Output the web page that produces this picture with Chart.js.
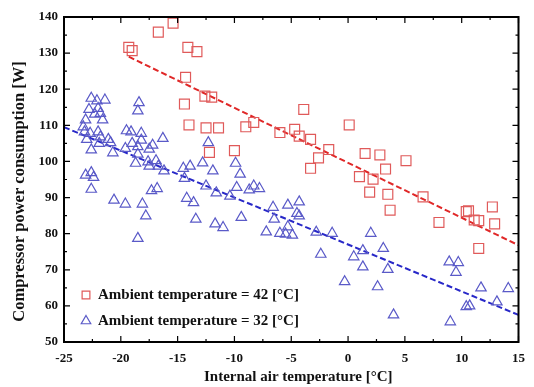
<!DOCTYPE html>
<html>
<head>
<meta charset="utf-8">
<script src="https://cdn.jsdelivr.net/npm/chart.js@4.4.1/dist/chart.umd.min.js"></script>
<style>
html, body { margin: 0; padding: 0; background: #fff; }
</style>
</head>
<body>
<canvas id="chart" width="534" height="387"></canvas>
<script>
// Ambient 42 °C (red squares)
const hotX = [-19.3, -19.0, -16.7, -15.4, -14.1, -13.3, -14.3, -12.6, -12.0, -14.4, -14.0, -12.5, -11.4, -9.0, -8.3,
  -6.0, -4.7, -12.2, -10.0, -3.9, -4.3, -3.3, -1.7, -2.6, -3.3, 0.1, 1.5, 2.8, 3.3, 5.1, 1.0, 2.2, 1.9, 3.5, 3.7,
  6.6, 8.0, 10.4, 10.6, 11.1, 11.5, 12.7, 12.9, 11.5];
const hotY = [131.6, 130.7, 135.8, 138.3, 131.6, 130.4, 123.3, 118.1, 117.8, 115.9, 110.1, 109.3, 109.3, 109.6, 110.8,
  108.0, 108.9, 102.5, 103.0, 114.4, 107.0, 106.1, 103.3, 101.0, 98.1, 110.1, 102.2, 101.8, 97.9, 100.2, 95.8, 95.1, 91.5, 90.9, 86.5,
  90.2, 83.1, 86.1, 86.3, 83.8, 83.6, 87.4, 82.7, 75.9];

// Ambient 32 °C (blue triangles)
const coolX = [-22.6, -22.1, -21.4, -22.8, -22.0, -22.3, -21.8, -21.6, -23.1, -23.3, -23.2, -22.7, -23.0, -22.0, -21.8,
  -21.9, -21.1, -20.9, -22.6, -20.7, -18.4, -18.5, -19.5, -19.1, -18.2, -19.6, -19.0, -18.5, -18.2, -18.5,
  -18.7, -17.5, -17.2, -17.6, -16.9, -17.5, -16.7, -16.3, -16.2, -23.1, -22.6, -22.4, -22.6, -20.6, -19.6,
  -18.1, -17.8, -18.5, -17.3, -16.8, -14.5, -13.9, -14.4, -12.8, -12.3, -11.9, -12.5, -11.6, -14.2, -13.6,
  -13.4, -11.7, -11.0, -9.9, -9.5, -9.8, -10.4, -9.4, -8.7, -8.3, -7.8, -7.2, -6.6, -6.5, -5.3,
  -6.0, -5.5, -5.3, -4.9, -4.3, -4.5, -4.3, -2.8, -1.4, 2.0, -2.4, 0.5, 1.3, 3.1, 1.3,
  3.5, -0.3, 2.6, 4.0, 8.9, 9.7, 9.5, 11.7, 14.1, 10.4, 10.7, 13.1, 9.0];
const coolY = [117.5, 116.8, 117.0, 114.4, 114.7, 113.1, 113.3, 111.5, 111.5, 109.6, 108.2, 107.8, 106.1, 108.2, 106.8,
  105.0, 106.1, 105.2, 103.2, 102.4, 116.3, 114.0, 108.5, 108.2, 107.8, 103.6, 105.0, 104.1, 105.9, 102.0,
  99.5, 103.4, 104.5, 99.9, 100.2, 98.7, 98.7, 106.4, 97.4, 96.2, 96.9, 95.6, 92.3, 89.3, 88.2,
  88.2, 84.9, 78.7, 91.9, 92.5, 98.1, 98.7, 95.3, 99.6, 105.2, 97.4, 93.2, 91.3, 89.8, 88.6,
  84.0, 82.7, 81.7, 99.5, 96.5, 92.8, 90.4, 84.5, 92.1, 93.2, 92.5, 80.5, 87.3, 84.0, 87.9,
  80.1, 79.9, 81.9, 79.6, 88.8, 85.6, 84.9, 80.4, 80.1, 80.1, 74.3, 73.6, 75.3, 75.9, 70.8,
  70.1, 66.7, 65.3, 57.5, 72.2, 72.0, 69.3, 65.0, 64.8, 59.8, 60.0, 61.1, 55.6];

// fitted lines (end points)
const hotFitX = [-19.3, 15];
const hotFitY = [129.0, 76.8];
const coolFitX = [-25, 15];
const coolFitY = [109.5, 57.5];

const xTicks = [-25, -20, -15, -10, -5, 0, 5, 10, 15];
const yTicks = [50, 60, 70, 80, 90, 100, 110, 120, 130, 140];

const hotLabel = 'Ambient temperature = 42 [°C]';
const coolLabel = 'Ambient temperature = 32 [°C]';
const xTitle = 'Internal air temperature [°C]';
const yTitle = 'Compressor power consumption [W]';

const toPoints = (xs, ys) => xs.map((x, i) => ({ x: x, y: ys[i] }));

const serif = '"Liberation Serif", "Times New Roman", serif';

// inward tick marks on all four sides + frame
const frameTicks = {
  id: 'frameTicks',
  afterDatasetsDraw(chart) {
    const { ctx, chartArea: a, scales: { x, y } } = chart;
    ctx.save();
    ctx.strokeStyle = '#000';
    ctx.lineWidth = 1.2;
    ctx.beginPath();
    xTicks.forEach((v, i) => {
      const px = x.getPixelForValue(v);
      ctx.moveTo(px, a.bottom); ctx.lineTo(px, a.bottom - 6);
      ctx.moveTo(px, a.top); ctx.lineTo(px, a.top + 6);
      if (i < xTicks.length - 1) {
        const mx = x.getPixelForValue((v + xTicks[i + 1]) / 2);
        ctx.moveTo(mx, a.bottom); ctx.lineTo(mx, a.bottom - 3);
        ctx.moveTo(mx, a.top); ctx.lineTo(mx, a.top + 3);
      }
    });
    yTicks.forEach((v, i) => {
      const py = y.getPixelForValue(v);
      ctx.moveTo(a.left, py); ctx.lineTo(a.left + 6, py);
      ctx.moveTo(a.right, py); ctx.lineTo(a.right - 6, py);
      if (i < yTicks.length - 1) {
        const my = y.getPixelForValue((v + yTicks[i + 1]) / 2);
        ctx.moveTo(a.left, my); ctx.lineTo(a.left + 3, my);
        ctx.moveTo(a.right, my); ctx.lineTo(a.right - 3, my);
      }
    });
    ctx.stroke();
    ctx.lineWidth = 2;
    ctx.strokeRect(a.left, a.top, a.right - a.left, a.bottom - a.top);
    ctx.restore();
  }
};

// axis titles (the original sits them a little off centre)
const axisTitles = {
  id: 'axisTitles',
  afterDraw(chart) {
    const { ctx, chartArea: a } = chart;
    ctx.save();
    ctx.fillStyle = '#111';
    ctx.textAlign = 'center';
    ctx.textBaseline = 'middle';
    ctx.font = 'bold 15px ' + serif;
    ctx.fillText(xTitle, (a.left + a.right) / 2 + 7, 377);
    ctx.translate(20, (a.top + a.bottom) / 2 + 12);
    ctx.rotate(-Math.PI / 2);
    ctx.font = 'bold 16.5px ' + serif;
    ctx.fillText(yTitle, 0, 0);
    ctx.restore();
  }
};

// legend inside the plot, bottom left
const innerLegend = {
  id: 'innerLegend',
  afterDraw(chart) {
    const { ctx, chartArea: a } = chart;
    const rows = [chart.data.datasets[0], chart.data.datasets[1]];
    ctx.save();
    ctx.font = 'bold 15px ' + serif;
    ctx.textBaseline = 'middle';
    rows.forEach((ds, i) => {
      const cy = a.bottom - 47 + i * 26;
      const cx = a.left + 22;
      ctx.strokeStyle = ds.borderColor;
      ctx.fillStyle = 'rgba(0,0,0,0)';
      ctx.lineWidth = 1.2;
      Chart.helpers.drawPoint(ctx, { pointStyle: ds.pointStyle, radius: 5.5, rotation: 0, borderWidth: 1.2 }, cx, cy);
      ctx.fillStyle = '#111';
      ctx.fillText(ds.label, a.left + 34, cy);
    });
    ctx.restore();
  }
};

new Chart(document.getElementById('chart'), {
  type: 'scatter',
  data: {
    datasets: [
      {
        label: hotLabel,
        data: toPoints(hotX, hotY),
        pointStyle: 'rect',
        pointRadius: 7,
        borderColor: '#e05a5a',
        backgroundColor: 'rgba(0,0,0,0)',
        borderWidth: 1.2
      },
      {
        label: coolLabel,
        data: toPoints(coolX, coolY),
        pointStyle: 'triangle',
        pointRadius: 6,
        borderColor: '#5a5ac8',
        backgroundColor: 'rgba(0,0,0,0)',
        borderWidth: 1.2
      },
      {
        type: 'line',
        label: 'fit42',
        data: toPoints(hotFitX, hotFitY),
        borderColor: '#e02828',
        borderWidth: 2,
        borderDash: [6, 3],
        pointRadius: 0,
        fill: false
      },
      {
        type: 'line',
        label: 'fit32',
        data: toPoints(coolFitX, coolFitY),
        borderColor: '#2828c8',
        borderWidth: 2,
        borderDash: [6, 3],
        pointRadius: 0,
        fill: false
      }
    ]
  },
  options: {
    responsive: false,
    animation: false,
    devicePixelRatio: 1,
    layout: { padding: { top: 17, right: 6, left: 0, bottom: 0 } },
    plugins: {
      legend: { display: false },
      tooltip: { enabled: false }
    },
    scales: {
      x: {
        type: 'linear',
        min: -25,
        max: 15,
        afterBuildTicks: s => { s.ticks = xTicks.map(v => ({ value: v })); },
        afterFit: s => { s.height = 45; },
        grid: { display: false, drawTicks: false },
        border: { display: false },
        ticks: { padding: 9, color: '#111', font: { family: serif, size: 13, weight: 'bold' } },
        title: { display: false }
      },
      y: {
        type: 'linear',
        min: 50,
        max: 140,
        afterBuildTicks: s => { s.ticks = yTicks.map(v => ({ value: v })); },
        afterFit: s => { s.width = 64; },
        grid: { display: false, drawTicks: false },
        border: { display: false },
        ticks: { padding: 6, color: '#111', font: { family: serif, size: 13, weight: 'bold' } },
        title: { display: false }
      }
    }
  },
  plugins: [frameTicks, axisTitles, innerLegend]
});
</script>
</body>
</html>
